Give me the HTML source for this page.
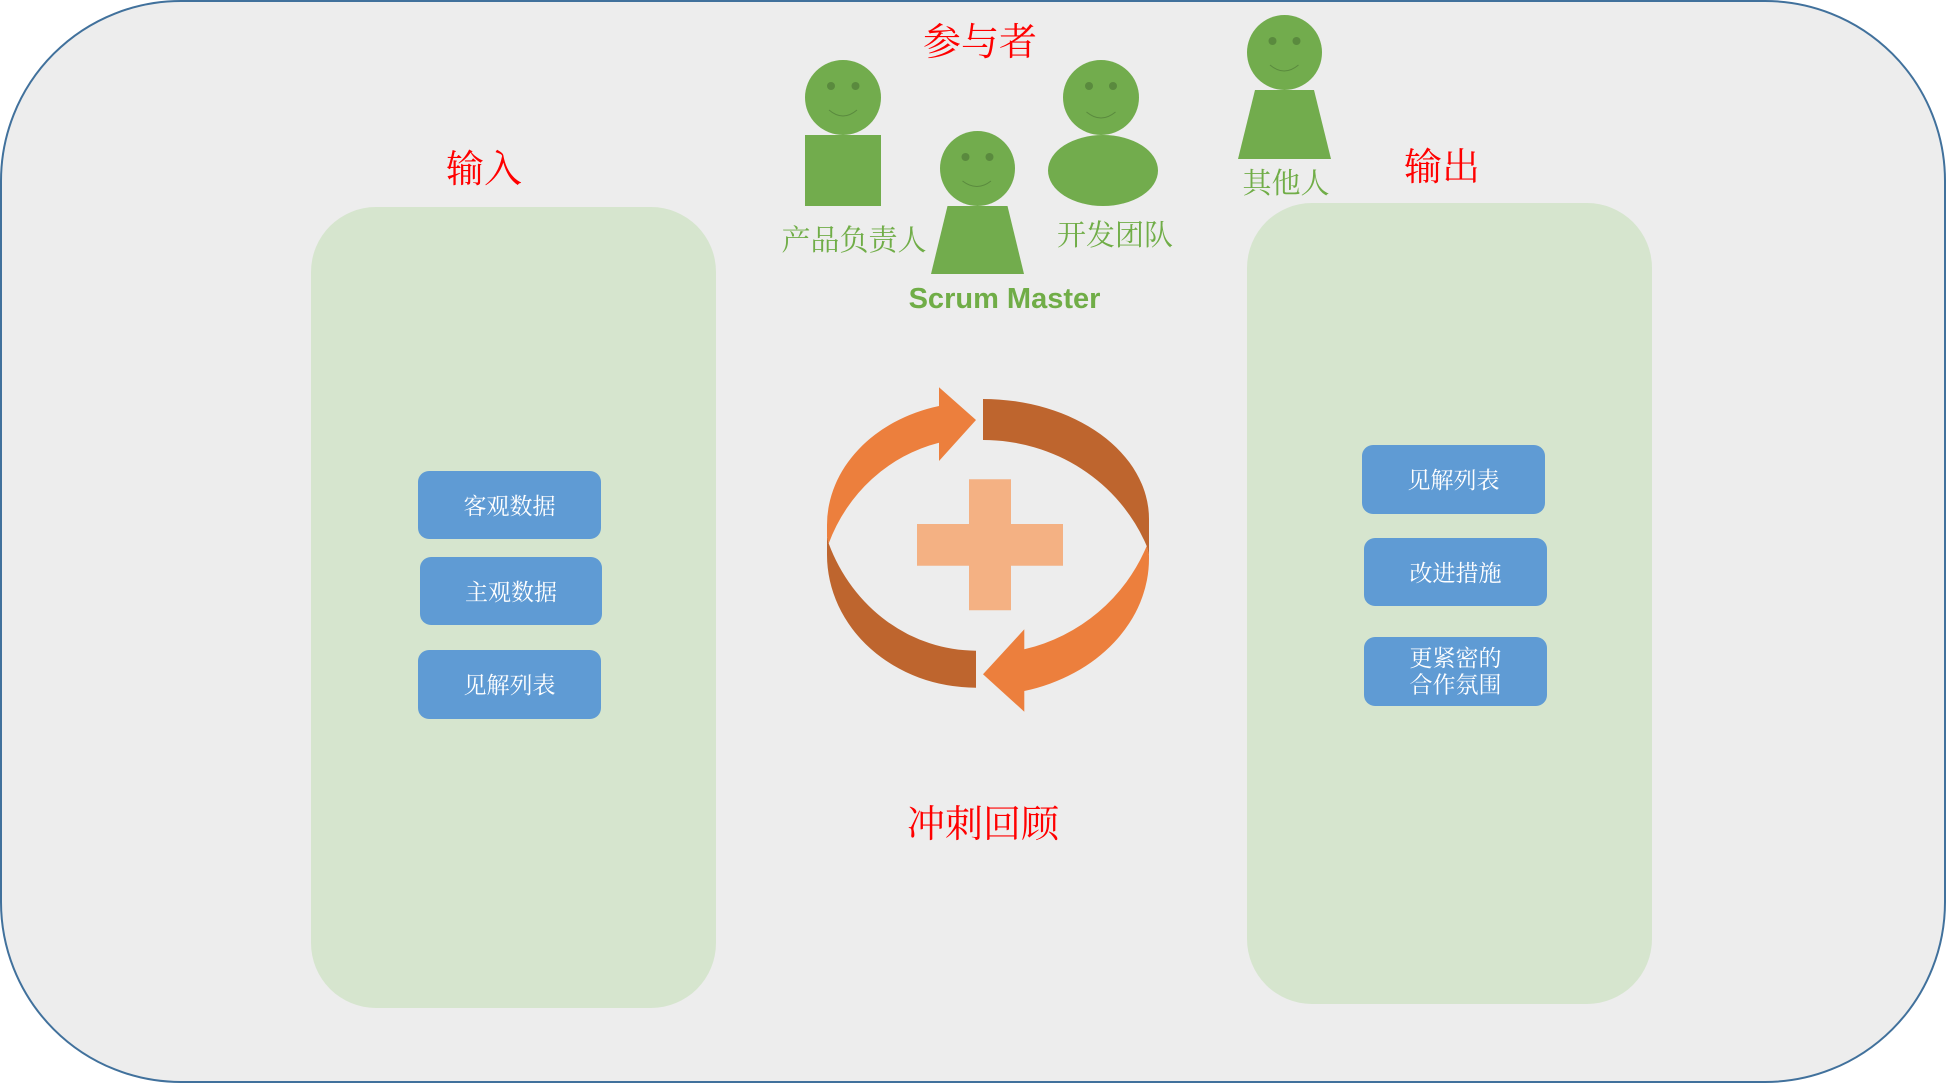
<!DOCTYPE html>
<html>
<head>
<meta charset="utf-8">
<style>
html,body{margin:0;padding:0;background:#fff;width:1946px;height:1083px;overflow:hidden}
svg{display:block}
text{text-anchor:middle}
.r{font-family:"Liberation Serif","Noto Serif CJK SC",serif;font-size:38px;fill:#ff0000}
.g{font-family:"Liberation Serif","Noto Serif CJK SC",serif;font-size:29px;fill:#70AD47}
.w{font-family:"Liberation Serif","Noto Serif CJK SC",serif;font-size:23px;fill:#fff}
</style>
</head>
<body>
<svg width="1946" height="1083" viewBox="0 0 1946 1083" xmlns="http://www.w3.org/2000/svg">
<rect x="1" y="1" width="1944" height="1081" rx="180" ry="180" fill="#EDEDED" stroke="#41719C" stroke-width="2"/>

<rect x="311" y="207" width="405" height="801" rx="65" ry="65" fill="#D6E5CE"/>
<rect x="1247" y="203" width="405" height="801" rx="65" ry="65" fill="#D6E5CE"/>

<rect x="418" y="471" width="183" height="68" rx="11" fill="#5F9BD4"/>
<rect x="420" y="557" width="182" height="68" rx="11" fill="#5F9BD4"/>
<rect x="418" y="650" width="183" height="69" rx="11" fill="#5F9BD4"/>
<rect x="1362" y="445" width="183" height="69" rx="11" fill="#5F9BD4"/>
<rect x="1364" y="538" width="183" height="68" rx="11" fill="#5F9BD4"/>
<rect x="1364" y="637" width="183" height="69" rx="11" fill="#5F9BD4"/>

<text class="w" x="509.5" y="514">客观数据</text>
<text class="w" x="511" y="600">主观数据</text>
<text class="w" x="509.5" y="693">见解列表</text>
<text class="w" x="1453.5" y="488">见解列表</text>
<text class="w" x="1455.5" y="581">改进措施</text>
<text class="w" x="1455.5" y="666">更紧密的</text>
<text class="w" x="1455.5" y="692.5">合作氛围</text>

<text class="r" x="980" y="55">参与者</text>
<text class="r" x="484" y="182">输入</text>
<text class="r" x="1442" y="180">输出</text>
<text class="r" x="983" y="837">冲刺回顾</text>

<!-- people -->
<g fill="#72AC4D">
<ellipse cx="843" cy="97.5" rx="38" ry="37.5"/>
<rect x="805" y="135" width="76" height="71"/>
<ellipse cx="977.5" cy="168.5" rx="37.5" ry="37.5"/>
<polygon points="947.5,206 1007.5,206 1024,274 931,274"/>
<ellipse cx="1101" cy="97.5" rx="38" ry="37.5"/>
<ellipse cx="1103" cy="170.5" rx="55" ry="35.5"/>
<ellipse cx="1284.5" cy="52.5" rx="37.5" ry="37.5"/>
<polygon points="1255,90 1314,90 1331,159 1238,159"/>
</g>
<g fill="#5A8A3E">
<ellipse cx="831" cy="86" rx="4" ry="4"/><ellipse cx="855.5" cy="86" rx="4" ry="4"/>
<ellipse cx="965.5" cy="157" rx="4" ry="4"/><ellipse cx="989.5" cy="157" rx="4" ry="4"/>
<ellipse cx="1089" cy="86" rx="4" ry="4"/><ellipse cx="1113" cy="86" rx="4" ry="4"/>
<ellipse cx="1272.5" cy="41" rx="4" ry="4"/><ellipse cx="1296.5" cy="41" rx="4" ry="4"/>
</g>
<g fill="none" stroke="#5A8A3E" stroke-width="1">
<path d="M829 110 Q843 122 857 110"/>
<path d="M962.5 181 Q977 192 991 181"/>
<path d="M1086.5 112 Q1101 124 1115.5 112"/>
<path d="M1270 65 Q1284 77 1298.5 65"/>
</g>
<text class="g" x="854" y="250">产品负责人</text>
<text class="g" x="1115" y="245">开发团队</text>
<text class="g" x="1286" y="193">其他人</text>
<text x="1004.5" y="308" style="font-family:'Liberation Sans',sans-serif;font-weight:bold;font-size:29px;fill:#70AD47">Scrum Master</text>

<!-- cycle arrows -->
<path fill="#BE652E" d="M983 399 A166 120 0 0 1 1149 519 V555 L1146.7 546 A176.7 171 0 0 0 983 440 Z"/>
<path fill="#EC7F3D" d="M983 674.3 L1024.3 629.3 V649.3 A176.7 174 0 0 0 1146.7 546 L1149 555 V558 A166 136.7 0 0 1 1024.3 691 V711.7 Z"/>
<path fill="#BE652E" d="M976 687.7 A149 133 0 0 1 827 554.7 V537 L828.7 543.5 A158.6 170 0 0 0 976 650.7 Z"/>
<path fill="#EC7F3D" d="M976 420 L939 387.3 V406 A149 122.8 0 0 0 827 525 V537 L828.7 543.5 A158.6 165 0 0 1 939 442.7 V461 Z"/>

<path fill="#F4B183" d="M969 479.3 H1011 V524 H1063 V565.7 H1011 V610.3 H969 V565.7 H917 V524 H969 Z"/>
</svg>
</body>
</html>
